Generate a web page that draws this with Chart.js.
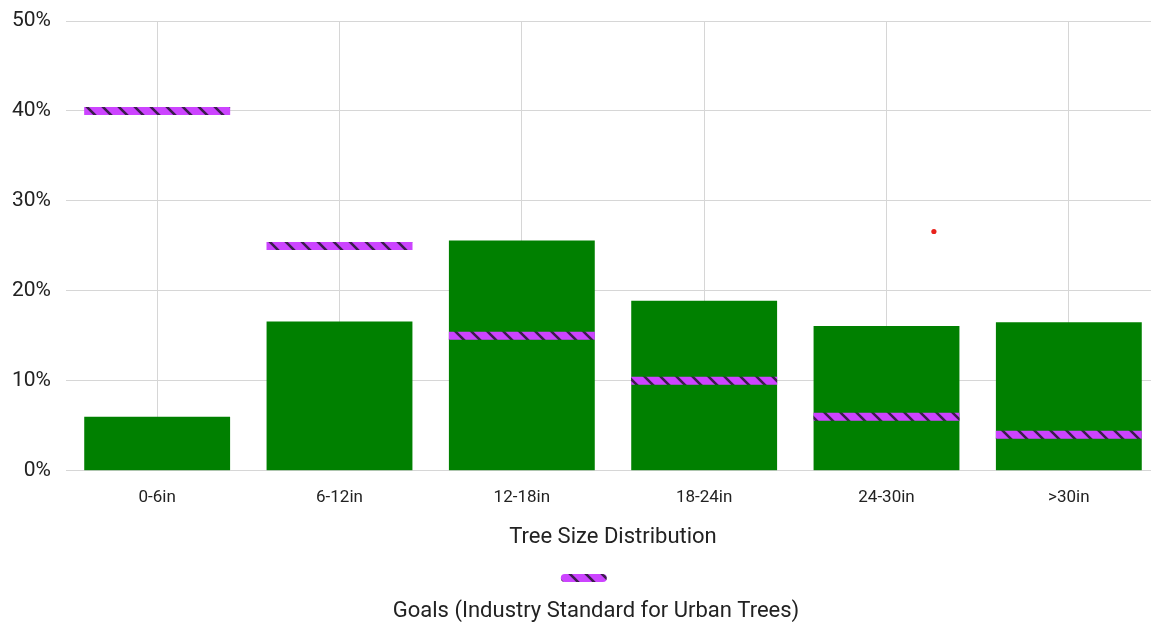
<!DOCTYPE html>
<html>
<head>
<meta charset="utf-8">
<script src="https://cdn.jsdelivr.net/npm/chart.js@4.4.1/dist/chart.umd.min.js"></script>
<style>
  html, body { margin: 0; padding: 0; background: #fff; overflow: hidden; }
  #wrap { position: absolute; left: 0; top: 0; width: 1192px; height: 625px; }
</style>
</head>
<body>
<div id="wrap"><canvas id="chart"></canvas></div>
<script>
// Tree size classes (trunk diameter)
const categories = ['0-6in', '6-12in', '12-18in', '18-24in', '24-30in', '>30in'];
// Current share of trees in each size class (%)
const treeShare = [6.0, 16.6, 25.6, 18.9, 16.1, 16.5];
// Industry-standard goal for urban trees (%)
const goalShare = [40, 25, 15, 10, 6, 4];
// Single highlighted marker: [class position, %]
const markerPoint = [{ x: 4.76, y: 26.6 }];
// Y-axis tick values (%)
const yTicks = [0, 10, 20, 30, 40, 50];

const textColor = '#222222';
const gridColor = '#d6d6d6';

// Diagonal hatch used for the goal markers
function makeHatch(ctx) {
  const tile = document.createElement('canvas');
  tile.width = 16; tile.height = 16;
  const t = tile.getContext('2d');
  t.fillStyle = '#cc44ff';
  t.fillRect(0, 0, 16, 16);
  t.strokeStyle = '#3b1d4d';
  t.lineWidth = 2.6;
  t.beginPath();
  for (const off of [-16, 0, 16]) {
    t.moveTo(off - 2, -2);
    t.lineTo(off + 18, 18);
  }
  t.stroke();
  const p = ctx.createPattern(tile, 'repeat');
  if (p.setTransform) p.setTransform(new DOMMatrix().translate(-4, 0));
  return p;
}

Chart.defaults.font.family = 'Roboto, "Noto Sans", sans-serif';
Chart.defaults.color = textColor;

const canvas = document.getElementById('chart');
const ctx = canvas.getContext('2d');
const hatch = makeHatch(ctx);

new Chart(ctx, {
  type: 'bar',
  data: {
    labels: categories,
    datasets: [
      {
        type: 'line',
        label: 'Goals (Industry Standard for Urban Trees)',
        data: goalShare,
        showLine: false,
        pointStyle: 'line',
        pointRadius: 73,
        pointHoverRadius: 73,
        borderWidth: 8,
        pointBorderWidth: 8,
        borderColor: hatch,
        backgroundColor: hatch,
        clip: false,
        order: 0
      },
      {
        type: 'scatter',
        label: 'marker',
        data: markerPoint,
        xAxisID: 'xDot',
        pointRadius: 2.6,
        pointBorderWidth: 0,
        backgroundColor: '#e8211b',
        borderColor: '#e8211b',
        order: 0
      },
      {
        label: 'Tree Size Distribution',
        data: treeShare,
        backgroundColor: '#008000',
        borderWidth: 0,
        grouped: false,
        categoryPercentage: 0.8,
        barPercentage: 1.0,
        order: 1
      }
    ]
  },
  options: {
    responsive: true,
    maintainAspectRatio: false,
    animation: false,
    layout: { autoPadding: false, padding: { left: 0, right: 0, top: 21, bottom: 0 } },
    scales: {
      x: {
        offset: true,
        grid: { offset: false, color: gridColor, drawTicks: false },
        border: { display: false },
        ticks: { padding: 17, font: { size: 17 }, color: textColor },
        title: {
          display: true,
          text: 'Tree Size Distribution',
          font: { size: 22 },
          color: textColor,
          padding: { top: -1, bottom: 10.5 }
        }
      },
      xDot: {
        type: 'linear',
        display: false,
        offset: false,
        min: 0,
        max: categories.length
      },
      y: {
        min: yTicks[0],
        max: yTicks[yTicks.length - 1],
        afterBuildTicks: (scale) => { scale.ticks = yTicks.map(v => ({ value: v })); },
        grid: { color: gridColor, drawTicks: false },
        border: { display: false },
        ticks: {
          padding: 15,
          font: { size: 21 },
          color: textColor,
          callback: (v) => v + '%'
        },
        afterFit: (scale) => {
          scale.width = 66;
          scale.paddingTop = 0;
          scale.paddingBottom = 0;
        }
      },
      // empty spacer on the right so the bottom legend sits where it should
      ySpacer: {
        position: 'right',
        display: true,
        grid: { display: false, drawTicks: false },
        border: { display: false },
        ticks: { display: false },
        afterFit: (scale) => { scale.width = 32; }
      }
    },
    plugins: {
      tooltip: { enabled: false },
      legend: {
        position: 'bottom',
        onClick: null,
        labels: {
          boxWidth: 46,
          boxHeight: 8,
          padding: 10,
          useBorderRadius: true,
          borderRadius: 4,
          font: { size: 14 },
          generateLabels: () => [{
            text: '     ',
            fillStyle: hatch,
            strokeStyle: 'rgba(0,0,0,0)',
            lineWidth: 0,
            borderRadius: 4,
            datasetIndex: 0,
            hidden: false
          }]
        }
      },
      subtitle: {
        display: true,
        position: 'bottom',
        text: 'Goals (Industry Standard for Urban Trees)',
        color: textColor,
        font: { size: 22, weight: 'normal' },
        padding: { top: 3.5, bottom: 0 }
      }
    }
  }
});
</script>
</body>
</html>
